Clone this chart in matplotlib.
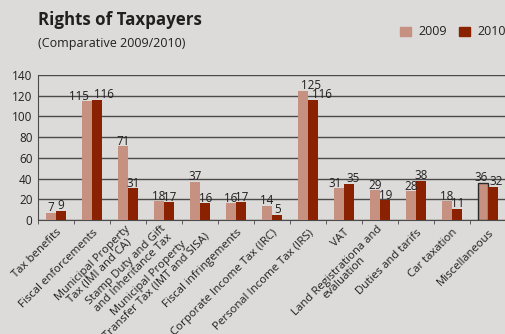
import numpy as np
import matplotlib
matplotlib.use("Agg")
import matplotlib.pyplot as plt
import matplotlib.transforms as mtransforms

plt.rcParams['font.family'] = ['Open Sans', 'DejaVu Sans']

categories = [
    "Tax benefits",
    "Fiscal enforcements",
    "Municipal Property\nTax (IMI and CA)",
    "Stamp Duty and Gift\nand Inheritance Tax",
    "Municipal Property\nTransfer Tax (IMT and SISA)",
    "Fiscal infringements",
    "Corporate Income Tax (IRC)",
    "Personal Income Tax (IRS)",
    "VAT",
    "Land Registrationa and\nevaluation",
    "Duties and tarifs",
    "Car taxation",
    "Miscellaneous",
]
vals_2009 = [7, 115, 71, 18, 37, 16, 14, 125, 31, 29, 28, 18, 36]
vals_2010 = [9, 116, 31, 17, 16, 17, 5, 116, 35, 19, 38, 11, 32]
yticks = [0, 20, 40, 60, 80, 100, 120, 140]

# nudges (in points) for crowded value labels: {group index: (2009 dx, 2010 dx)}
label_shift = {1: (-6, 5), 7: (6, 6), 8: (-3, 2.5), 12: (-1, 2)}

bg = '#dcdbd9'
c09 = '#c69181'
c10 = '#8a2100'
txt = '#231f20'

fig = plt.figure(figsize=(5.06, 3.34), dpi=100, facecolor=bg)
ax = fig.add_axes([38 / 506, 1 - 220 / 334, 468 / 506, 145 / 334], facecolor=bg)

x = np.arange(len(categories))
w = 0.29
b1 = ax.bar(x - w / 2, vals_2009, w, color=c09, zorder=3)
b2 = ax.bar(x + w / 2, vals_2010, w, color=c10, zorder=3)
# highlight the last 2009 bar
b1[-1].set_edgecolor('#2a2a2a')
b1[-1].set_linewidth(1.0)

for k, bars in enumerate((b1, b2)):
    for i, r in enumerate(bars):
        dx = label_shift.get(i, (0, 0))[k]
        ax.annotate(str(int(r.get_height())),
                    (r.get_x() + r.get_width() / 2, r.get_height()),
                    xytext=(dx, 1), textcoords='offset points',
                    ha='center', va='baseline', fontsize=8.4, color=txt, zorder=4)

ax.set_xlim(-0.5, len(categories) - 0.5)
ax.set_ylim(0, 140)
ax.set_yticks(yticks)
ax.yaxis.grid(True, color='#4a4a4a', linewidth=1.0, zorder=1)
ax.tick_params(axis='y', length=0, labelsize=8.5, colors=txt, pad=4)

ax.set_xticks(x)
ax.set_xticklabels(categories, rotation=45, ha='right', va='center',
                   rotation_mode='anchor', fontsize=8.2, color=txt,
                   multialignment='center', linespacing=0.9)
ax.tick_params(axis='x', length=0, pad=8)
# push the slanted labels a little to the right
shift = mtransforms.ScaledTranslation(4 / 100, 0, fig.dpi_scale_trans)
for lbl in ax.get_xticklabels():
    lbl.set_transform(lbl.get_transform() + shift)
ax.set_xticks(np.arange(len(categories) + 1) - 0.5, minor=True)
ax.tick_params(axis='x', which='minor', length=3, color='#4a4a4a')

for s in ('top', 'right'):
    ax.spines[s].set_visible(False)
ax.spines['left'].set_color('#4a4a4a')
ax.spines['bottom'].set_color('#4a4a4a')

fig.text(38 / 506, 1 - 20 / 334, "Rights of Taxpayers", fontsize=12.2,
         fontweight='bold', color=txt, va='center', ha='left')
fig.text(38 / 506, 1 - 43 / 334, "(Comparative 2009/2010)", fontsize=9,
         color=txt, va='center', ha='left')

# legend
for lx, col, lab in ((400, c09, "2009"), (459, c10, "2010")):
    fig.patches.append(plt.Rectangle((lx / 506, 1 - 36 / 334), 11 / 506, 9 / 334,
                                     transform=fig.transFigure, color=col))
    fig.text((lx + 18) / 506, 1 - 31.5 / 334, lab, fontsize=9, color=txt,
             va='center', ha='left')

fig.savefig("out.png", dpi=100, facecolor=bg)
